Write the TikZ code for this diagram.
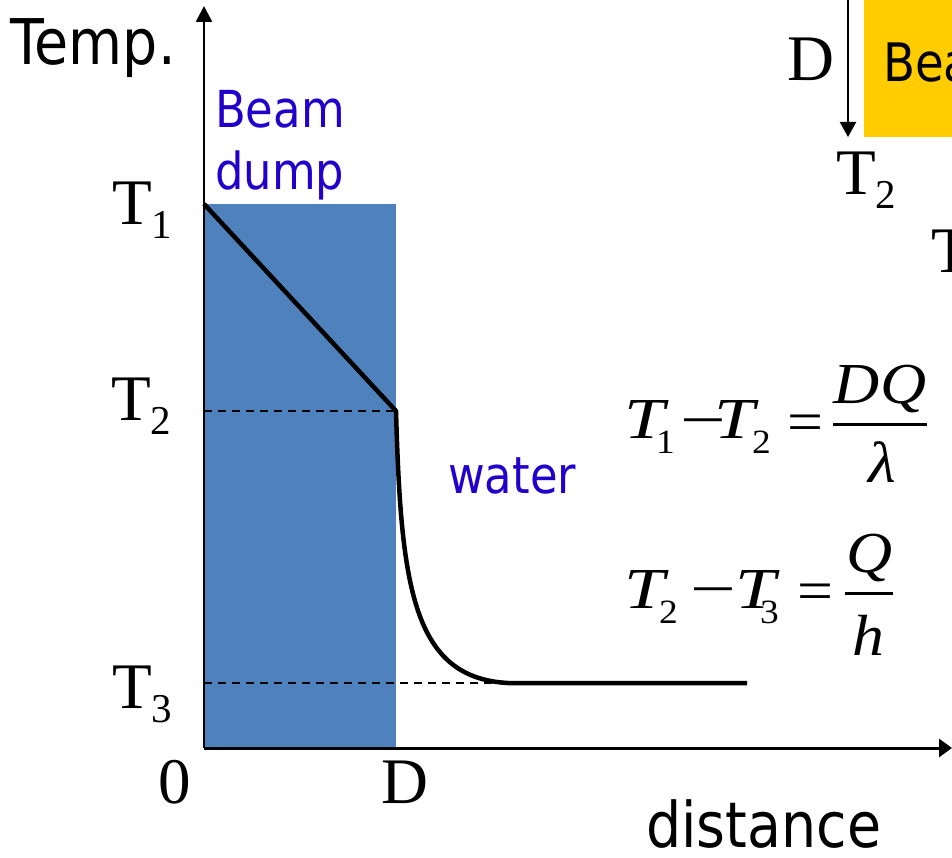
\documentclass[tikz,border=0pt]{standalone}
\usepackage{fontspec}
\usepackage{graphicx}
\setmainfont{Liberation Serif}
\newfontfamily\sansf[FakeStretch=0.88]{DejaVu Sans}
\newfontfamily\eqfont[FakeStretch=1.25]{Liberation Serif}
\newfontfamily\eqfontn[FakeStretch=1.1]{Liberation Serif}
\usetikzlibrary{arrows.meta}
\definecolor{dumpblue}{HTML}{4F81BD}
\definecolor{labelblue}{RGB}{34,0,204}
\definecolor{beamyellow}{HTML}{FFCC00}
\newcommand{\lowsub}[1]{\raisebox{-14pt}{\fontsize{41}{41}\selectfont #1}}
\newcommand{\wideop}[1]{\scalebox{1.4}[1]{#1}}
\newcommand{\wideeq}[1]{\scalebox{1.1}[1]{#1}}
\begin{document}
\begin{tikzpicture}[x=1pt,y=-1pt,
  serif/.style={font=\fontsize{65}{70}\selectfont, inner sep=0pt, anchor=base west},
  serifc/.style={font=\fontsize{65}{70}\selectfont, inner sep=0pt, anchor=base},
  sanslbl/.style={font=\sansf\fontsize{63}{70}\selectfont, inner sep=0pt, anchor=base west},
  bluelbl/.style={font=\sansf\fontsize{51}{60}\selectfont, inner sep=0pt, anchor=base west, text=labelblue},
  eqit/.style={font=\eqfont\fontsize{58}{60}\selectfont\itshape, inner sep=0pt, anchor=base west},
  eqitc/.style={font=\eqfontn\fontsize{58}{60}\selectfont\itshape, inner sep=0pt, anchor=base},
  eqrm/.style={font=\fontsize{58}{60}\selectfont, inner sep=0pt, anchor=base west},
  eqsub/.style={font=\eqfontn\fontsize{34}{36}\selectfont, inner sep=0pt, anchor=base west},
  yaxis/.style={line width=2.5pt, -{Triangle[length=16pt,width=16pt]}},
  xaxis/.style={line width=3pt, -{Triangle[length=13pt,width=18pt]}},
  dashline/.style={dash pattern=on 8pt off 6pt, line width=2pt},
  profile/.style={line width=4.5pt, line join=round},
  fracbar/.style={line width=3pt}
]
\useasboundingbox (0,0) rectangle (952,858);
\clip (0,0) rectangle (952,858);

% beam dump block
\fill[dumpblue] (204,204) rectangle (396,748);

% coordinates
\coordinate (O) at (204,748);
\coordinate (Ytop) at (204,6);
\coordinate (Xend) at (952,748);
\coordinate (P1) at (204,204);
\coordinate (P2) at (396,411);
\coordinate (P3) at (508,683);
\coordinate (P4) at (747,683);
\coordinate (A2) at (204,411);
\coordinate (A3) at (204,683);

% dashed guides
\draw[dashline] (A2) -- (P2);
\draw[dashline] (A3) -- (P3);

% axes
\draw[yaxis] (O) -- (Ytop);
\draw[xaxis] (O) -- (Xend);

% temperature profile
\draw[profile] (P1) -- (P2) .. controls (401,585) and (412,678) .. (P3) -- (P4);

% axis labels
\node[sanslbl] (temp) at (10,65) {Temp.};
\node[sanslbl] (dist) at (646,847) {distance};
\node[serif] (t1) at (112,225) {T\lowsub{1}};
\node[serif] (t2) at (111,420) {T\lowsub{2}};
\node[serif] (t3) at (112,708) {T\lowsub{3}};
\node[serifc] (zero) at (175,803) {0};
\node[serifc] (dlab) at (405,803) {D};

% region labels
\node[bluelbl] (beam) at (215,128) {Beam};
\node[bluelbl] (dump) at (215,190) {dump};
\node[bluelbl] (water) at (448,493) {water};

% equation 1
\node[eqit] (e1a) at (624,438) {T};
\node[eqsub] (e1b) at (656,453) {1};
\node[eqrm] (e1c) at (680,439) {\wideop{−}};
\node[eqit] (e1d) at (714,438) {T};
\node[eqsub] (e1e) at (752,453) {2};
\node[eqrm] (e1f) at (787,441) {\wideeq{=}};
\node[eqitc] (e1n) at (880,403) {DQ};
\node[eqitc] (e1m) at (882,482) {λ};
\coordinate (b1l) at (833,424);
\coordinate (b1r) at (927,424);
\draw[fracbar] (b1l) -- (b1r);

% equation 2
\node[eqit] (e2a) at (624,608) {T};
\node[eqsub] (e2b) at (659,623) {2};
\node[eqrm] (e2c) at (690,608) {\wideop{−}};
\node[eqit] (e2d) at (735,608) {T};
\node[eqsub] (e2e) at (760,623) {3};
\node[eqrm] (e2f) at (797,610) {\wideeq{=}};
\node[eqitc] (e2n) at (870,572) {Q};
\node[eqitc] (e2m) at (868,655) {h};
\coordinate (b2l) at (845,593);
\coordinate (b2r) at (893,593);
\draw[fracbar] (b2l) -- (b2r);

% top right inset
\fill[beamyellow] (864,-5) rectangle (960,137);
\node[font=\sansf\fontsize{53}{60}\selectfont, inner sep=0pt, anchor=base west] (bea) at (883,82) {Beam};
\coordinate (Dtop) at (848,-5);
\coordinate (Dend) at (848,137);
\draw[line width=2pt, -{Triangle[length=15pt,width=16pt]}] (Dtop) -- (Dend);
\node[serifc] (dtop) at (811,81) {D};
\node[serif] (t2top) at (836,195) {T\lowsub{2}};
\node[serif] (tpart) at (931,273) {T};
\end{tikzpicture}
\end{document}
